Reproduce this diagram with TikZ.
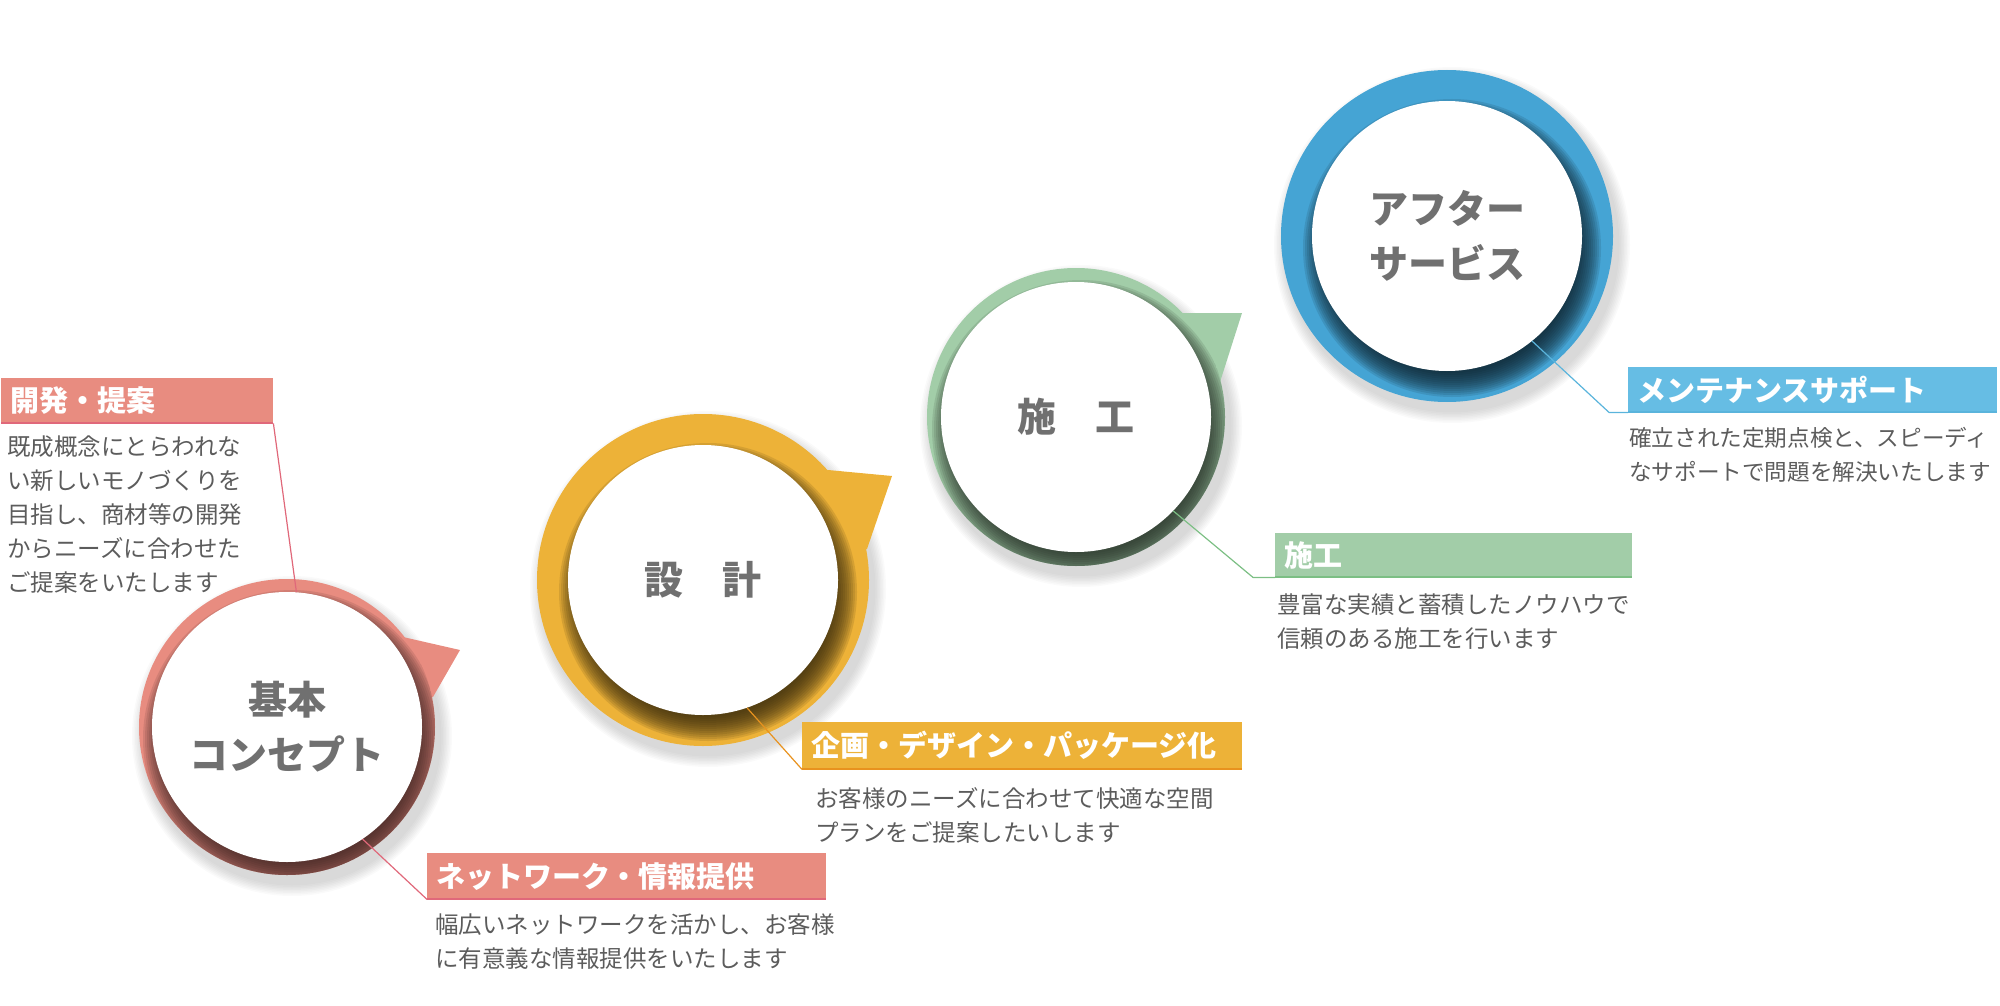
\documentclass[tikz,border=0pt]{standalone}
\usepackage{fontspec}
\setmainfont{Noto Sans CJK JP}
\usepackage{tikz}
\usetikzlibrary{positioning, calc}

\definecolor{kihonring}{HTML}{E88C80}
\definecolor{kihonline}{HTML}{E0687A}
\definecolor{sekkeiring}{HTML}{EDB238}
\definecolor{sekkeiline}{HTML}{E8921E}
\definecolor{sekoring}{HTML}{A2CDA8}
\definecolor{sekoline}{HTML}{7CBF84}
\definecolor{afterring}{HTML}{45A4D4}
\definecolor{afterbox}{HTML}{66BDE4}
\definecolor{afterline}{HTML}{5AB4DC}
\definecolor{titlegray}{HTML}{707070}
\definecolor{bodygray}{HTML}{5C5C5C}

\tikzstyle{stage} = [circle, minimum size=270pt, inner sep=0pt, fill=white, text=titlegray, align=center, font=\fontsize{39}{55}\selectfont\bfseries]
\tikzstyle{labelbox} = [rectangle, anchor=north west, inner xsep=9pt, inner ysep=0pt, minimum height=45pt, text=white, align=left, font=\fontsize{29}{29}\selectfont\bfseries]
\tikzstyle{bodytext} = [inner sep=0pt, text=bodygray, align=left, font=\fontsize{23.5}{34}\selectfont]
\tikzstyle{leader} = [line width=1.2pt]
\tikzstyle{boxedge} = [line width=2pt]

% shadow of the white disc on the coloured ring
\newcommand{\ringshadow}[3]{%
  \begin{scope}
    \clip (#1) circle (#2);
    \foreach \k in {-10,-8,...,14}
      \fill [#3, opacity=0.13] ($(#1)+(5,12)$) circle ({135+\k});
  \end{scope}}
% soft grey shadow round the ring
\newcommand{\outershadow}[2]{%
  \foreach \k in {1,...,8}
    \fill [black, opacity=0.018] ($(#1)+(5,9)$) circle ({#2+1.5*\k});}

\begin{document}
\begin{tikzpicture}[x=1pt, y=-1pt]
\useasboundingbox (0,0) rectangle (2000,1006);

% Centres
\coordinate (kihonc) at (287,727);
\coordinate (sekkeic) at (703,580);
\coordinate (sekoc) at (1076,417);
\coordinate (afterc) at (1447,236);

% Kihon concept
\outershadow{kihonc}{148}
\fill [kihonring] (403,637) -- (460,650) -- (433,697) -- (kihonc) -- cycle;
\fill [kihonring] (kihonc) circle (148);
\ringshadow{kihonc}{148}{black!72!kihonring}
\node (kihon) [stage] at (kihonc) {基本\\コンセプト};

% Sekkei
\outershadow{sekkeic}{166}
\fill [sekkeiring] (828,470) -- (892,476) -- (867,549) -- (sekkeic) -- cycle;
\fill [sekkeiring] (sekkeic) circle (166);
\ringshadow{sekkeic}{166}{black!75!sekkeiring}
\node (sekkei) [stage] at (sekkeic) {設　計};

% Seko
\outershadow{sekoc}{149}
\fill [sekoring] (1182,313) -- (1242,313) -- (1220,382) -- (sekoc) -- cycle;
\fill [sekoring] (sekoc) circle (149);
\ringshadow{sekoc}{149}{black!75!sekoring}
\node (seko) [stage] at (sekoc) {施　工};

% After service
\outershadow{afterc}{166}
\fill [afterring] (afterc) circle (166);
\ringshadow{afterc}{166}{black!78!afterring}
\node (after) [stage] at (afterc) {アフター\\サービス};

% Label boxes
\node (kaihatsubox) [labelbox, fill=kihonring, text width=254pt] at (1,378) {開発・提案};
\node (networkbox) [labelbox, fill=kihonring, text width=381pt, minimum height=46pt] at (427,853) {ネットワーク・情報提供};
\node (kikakubox) [labelbox, fill=sekkeiring, text width=422pt, minimum height=47pt] at (802,722) {企画・デザイン・パッケージ化};
\node (sekobox) [labelbox, fill=sekoring, text width=339pt, minimum height=44pt] at (1275,533) {施工};
\node (maintbox) [labelbox, fill=afterbox, text width=351pt] at (1628,367) {メンテナンスサポート};

\draw [boxedge, kihonline] (kaihatsubox.south west) -- (kaihatsubox.south east);
\draw [boxedge, kihonline] (networkbox.south west) -- (networkbox.south east);
\draw [boxedge, sekkeiline] (kikakubox.south west) -- (kikakubox.south east);
\draw [boxedge, sekoline] (sekobox.south west) -- (sekobox.south east);
\draw [boxedge, afterline] (maintbox.south west) -- (maintbox.south east);

% Texts
\node (kaihatsutext) [bodytext, below=12pt of kaihatsubox.south west, anchor=north west, xshift=6pt] {既成概念にとらわれな\\い新しいモノづくりを\\目指し、商材等の開発\\からニーズに合わせた\\ご提案をいたします};
\node (networktext) [bodytext, below=14pt of networkbox.south west, anchor=north west, xshift=8pt] {幅広いネットワークを活かし、お客様\\に有意義な情報提供をいたします};
\node (kikakutext) [bodytext, below=18pt of kikakubox.south west, anchor=north west, xshift=13pt] {お客様のニーズに合わせて快適な空間\\プランをご提案したいします};
\node (sekotext) [bodytext, below=16pt of sekobox.south west, anchor=north west, xshift=2pt] {豊富な実績と蓄積したノウハウで\\信頼のある施工を行います};
\node (mainttext) [bodytext, font=\fontsize{22.6}{34}\selectfont, below=15pt of maintbox.south west, anchor=north west, xshift=1pt] {確立された定期点検と、スピーディ\\なサポートで問題を解決いたします};

% Leaders
\draw [leader, kihonline] (kaihatsubox.south east) -- (kihon.86);
\draw [leader, kihonline] (kihon.-56) -- (networkbox.south west);
\draw [leader, sekkeiline] (sekkei.-71) -- (kikakubox.south west);
\draw [leader, sekoline] (seko.-44) -- ($(sekobox.south west)+(-22,0)$) -- (sekobox.south west);
\draw [leader, afterline] (after.-51) -- ($(maintbox.south west)+(-19,0)$) -- (maintbox.south west);

\end{tikzpicture}
\end{document}
